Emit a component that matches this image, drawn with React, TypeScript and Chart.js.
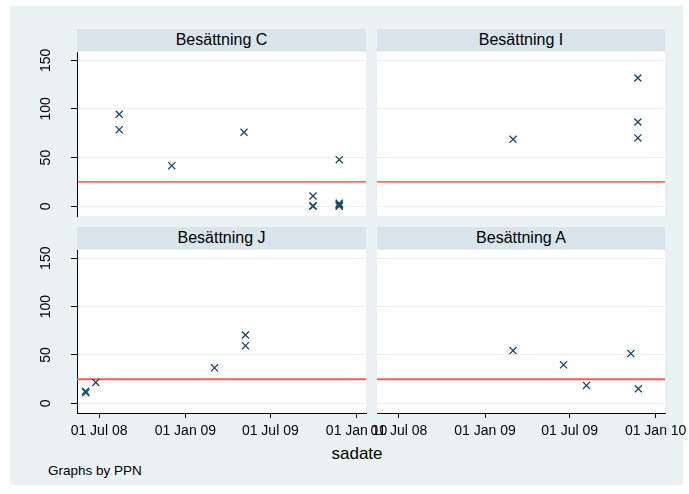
import React, { useEffect, useRef } from 'react';
import { Chart, registerables } from 'chart.js';

Chart.register(...registerables);

const FONT = "'Liberation Sans', Arial, Helvetica, sans-serif";

// ---------- data ----------
const panelTitles = ['Besättning C', 'Besättning I', 'Besättning J', 'Besättning A'];

const cDates = ['2008-08-13', '2008-08-13', '2008-12-03', '2009-05-06', '2009-09-30', '2009-09-30', '2009-09-30', '2009-11-25', '2009-11-25', '2009-11-25', '2009-11-25', '2009-11-25'];
const cValues = [94.5, 78.7, 41.7, 76, 10.5, 0, 0.5, 47.9, 0, 1, 2, 3];

const iDates = ['2009-03-02', '2009-11-24', '2009-11-24', '2009-11-24'];
const iValues = [68.8, 131.8, 86.6, 70.2];

const jDates = ['2008-06-02', '2008-06-03', '2008-06-24', '2009-03-04', '2009-05-09', '2009-05-09'];
const jValues = [12.5, 11, 21.6, 36.7, 70.6, 59.6];

const aDates = ['2009-03-02', '2009-06-18', '2009-08-06', '2009-11-09', '2009-11-25'];
const aValues = [54.5, 39.8, 18.5, 51.4, 15.1];

const xTickDates = ['2008-07-01', '2009-01-01', '2009-07-01', '2010-01-01'];
const yTickValues = [0, 50, 100, 150];
const xMinDate = '2008-05-15';
const xMaxDate = '2010-01-21';
const yMin = -10;
const yMax = 158.5;
const threshold = 25;

const xTitle = 'sadate';
const note = 'Graphs by PPN';

// ---------- helpers ----------
const MONTHS = ['Jan', 'Feb', 'Mar', 'Apr', 'May', 'Jun', 'Jul', 'Aug', 'Sep', 'Oct', 'Nov', 'Dec'];
const toDay = (s: string) => {
  const [y, m, d] = s.split('-').map(Number);
  return Date.UTC(y, m - 1, d) / 86400000;
};
const fmtDay = (v: number) => {
  const dt = new Date(Math.round(v) * 86400000);
  const dd = String(dt.getUTCDate()).padStart(2, '0');
  const yy = String(dt.getUTCFullYear() % 100).padStart(2, '0');
  return `${dd} ${MONTHS[dt.getUTCMonth()]} ${yy}`;
};

const bgPlugin = {
  id: 'plotBg',
  beforeDraw(chart: any) {
    const { ctx, chartArea: a } = chart;
    ctx.save();
    ctx.fillStyle = '#ffffff';
    ctx.fillRect(a.left, a.top, a.right - a.left, a.bottom - a.top);
    ctx.restore();
  },
};

type PanelProps = {
  dates: string[];
  values: number[];
  showY: boolean;
  showX: boolean;
  left: number;
  top: number;
  width: number;
  height: number;
  padding: { left: number; right: number; top: number; bottom: number };
  lineColor: string;
  lineWidth: number;
};

function Panel(p: PanelProps) {
  const ref = useRef<HTMLCanvasElement | null>(null);
  useEffect(() => {
    if (!ref.current) return;
    const chart = new Chart(ref.current, {
      type: 'scatter',
      data: {
        datasets: [
          {
            type: 'scatter',
            data: p.dates.map((d, i) => ({ x: toDay(d), y: p.values[i] })),
            pointStyle: 'crossRot',
            pointRadius: 5,
            pointHoverRadius: 5,
            borderColor: '#1a476f',
            backgroundColor: '#1a476f',
            pointBorderWidth: 1.3,
            borderWidth: 1.3,
            order: 0,
          } as any,
          {
            type: 'line',
            data: [
              { x: toDay(xMinDate), y: threshold },
              { x: toDay(xMaxDate), y: threshold },
            ],
            borderColor: p.lineColor,
            borderWidth: p.lineWidth,
            pointRadius: 0,
            fill: false,
            order: 1,
          } as any,
        ],
      },
      options: {
        animation: false,
        responsive: false,
        maintainAspectRatio: false,
        events: [],
        layout: { autoPadding: false, padding: p.padding },
        plugins: {
          legend: { display: false },
          tooltip: { enabled: false },
          title: { display: false },
        },
        scales: {
          x: {
            type: 'linear',
            min: toDay(xMinDate),
            max: toDay(xMaxDate),
            display: p.showX,
            afterBuildTicks: (s: any) => {
              s.ticks = xTickDates.map((d) => ({ value: toDay(d) }));
            },
            afterFit: (s: any) => {
              s.height = p.showX ? 30 : 0;
              s.paddingLeft = 0;
              s.paddingRight = 0;
              s.paddingTop = 0;
              s.paddingBottom = 0;
            },
            grid: {
              drawOnChartArea: false,
              drawTicks: true,
              tickLength: 5,
              tickColor: '#000',
              tickWidth: 1,
            },
            border: { display: true, color: '#000', width: 1 },
            ticks: {
              callback: (v: any) => fmtDay(Number(v)),
              font: { family: FONT, size: 14 },
              color: '#000',
              padding: 4.5,
              minRotation: 0,
              maxRotation: 0,
              autoSkip: false,
            },
          },
          y: {
            type: 'linear',
            min: yMin,
            max: yMax,
            afterBuildTicks: (s: any) => {
              s.ticks = yTickValues.map((v) => ({ value: v }));
            },
            afterFit: (s: any) => {
              s.width = p.showY ? 67 : 0;
              s.paddingLeft = 0;
              s.paddingRight = 0;
              s.paddingTop = 0;
              s.paddingBottom = 0;
            },
            grid: {
              color: '#eaf2f3',
              lineWidth: 1,
              drawTicks: p.showY,
              tickLength: 6,
              tickColor: '#000',
              tickWidth: 1,
            },
            border: { display: p.showY, color: '#000', width: 1 },
            ticks: {
              display: p.showY,
              callback: (v: any) => String(v),
              font: { family: FONT, size: 14 },
              color: '#000',
              padding: 13,
              minRotation: 90,
              maxRotation: 90,
              crossAlign: 'center',
            },
          },
        },
      } as any,
      plugins: [bgPlugin],
    });
    return () => chart.destroy();
  }, []);
  return (
    <canvas
      ref={ref}
      width={p.width}
      height={p.height}
      style={{ position: 'absolute', left: p.left, top: p.top, width: p.width, height: p.height }}
    />
  );
}

const headerStyle = (left: number, top: number, width: number): React.CSSProperties => ({
  position: 'absolute',
  left,
  top,
  width,
  height: 22,
  lineHeight: '22px',
  background: '#d9e5eb',
  textAlign: 'center',
  fontFamily: FONT,
  fontSize: 16,
  color: '#000',
  whiteSpace: 'nowrap',
});

export default function App() {
  return (
    <div style={{ position: 'absolute', left: 0, top: 0, width: 689, height: 494, background: '#ffffff', overflow: 'hidden' }}>
      <div style={{ position: 'absolute', left: 10, top: 6, width: 673, height: 479, background: '#eaf2f3' }} />

      <Panel dates={cDates} values={cValues} showY={true} showX={false}
        left={10} top={29} width={356} height={195}
        padding={{ left: 0, right: 0, top: 23, bottom: 8 }} lineColor="#ff0000" lineWidth={1} />
      <Panel dates={iDates} values={iValues} showY={false} showX={false}
        left={377} top={29} width={288} height={195}
        padding={{ left: 0, right: 0, top: 23, bottom: 8 }} lineColor="#ff0000" lineWidth={1} />
      <Panel dates={jDates} values={jValues} showY={true} showX={true}
        left={10} top={227} width={386} height={216}
        padding={{ left: 0, right: 30, top: 23, bottom: 0 }} lineColor="#ff5a5a" lineWidth={2} />
      <Panel dates={aDates} values={aValues} showY={false} showX={true}
        left={347} top={227} width={342} height={216}
        padding={{ left: 30, right: 24, top: 23, bottom: 0 }} lineColor="#ff5a5a" lineWidth={2} />

      <div style={headerStyle(77, 29, 289)}>{panelTitles[0]}</div>
      <div style={headerStyle(377, 29, 288)}>{panelTitles[1]}</div>
      <div style={headerStyle(77, 227, 289)}>{panelTitles[2]}</div>
      <div style={headerStyle(377, 227, 288)}>{panelTitles[3]}</div>

      <div style={{ position: 'absolute', left: 0, width: 714, top: 443.6, lineHeight: '20px', textAlign: 'center', fontFamily: FONT, fontSize: 17, color: '#000' }}>{xTitle}</div>
      <div style={{ position: 'absolute', left: 48, top: 463.3, lineHeight: '16px', fontFamily: FONT, fontSize: 13.5, color: '#000', whiteSpace: 'nowrap' }}>{note}</div>
    </div>
  );
}
